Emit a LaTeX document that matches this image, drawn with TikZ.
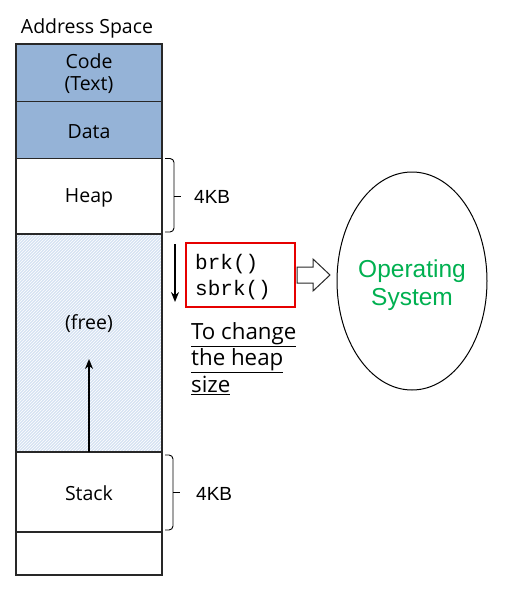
\documentclass[tikz,border=0pt]{standalone}
\usepackage{fontspec}
\setmainfont{Open Sans}
\newfontfamily\arial{Liberation Sans}
\newfontfamily\cour{Liberation Mono}
\usetikzlibrary{patterns,shapes.geometric,arrows.meta}
\definecolor{segblue}{RGB}{149,179,215}
\definecolor{freeblue}{RGB}{214,226,242}
\definecolor{osgreen}{RGB}{0,176,80}
\definecolor{boxred}{RGB}{230,0,0}
\definecolor{edge}{RGB}{40,40,40}
\tikzset{
  seg/.style={draw=edge, line width=1.2pt},
  lbl/.style={font=\fontsize{19.5}{22}\selectfont, inner sep=0pt},
  kb/.style={font=\arial\fontsize{19}{22}\selectfont, anchor=west, inner sep=0pt},
  brc/.style={draw=black, line width=0.9pt, rounded corners=4pt},
  arr/.style={draw=black, line width=1.5pt, -{Stealth[length=10pt,width=8pt]}},
}
\begin{document}
\begin{tikzpicture}[x=1pt,y=-1pt]
\useasboundingbox (0,0) rectangle (515,592);
% address space column
\node[lbl] (title) at (87,28) {Address Space};
\fill[freeblue] (16,234) rectangle (162,452);
\fill[pattern=north east lines, pattern color=white] (16,234) rectangle (162,452);
\draw[seg, fill=segblue] (16,44) rectangle (162,101.5);
\draw[seg, fill=segblue] (16,101.5) rectangle (162,158.5);
\draw[seg] (16,158.5) rectangle (162,234);
\draw[seg] (16,234) rectangle (162,452);
\draw[seg] (16,452) rectangle (162,532);
\draw[seg] (16,532) rectangle (162,575);
\node[lbl, align=center] (code) at (89,74) {Code\\(Text)};
\node[lbl] (data) at (89,132) {Data};
\node[lbl] (heap) at (89,198) {Heap};
\node[lbl] (free) at (89,324) {(free)};
\node[lbl] (stack) at (89,493) {Stack};
% brackets
\draw[brc] (165,158.5) -- (174,158.5) -- (174,232) -- (165,232);
\draw (174,196) -- (181,196);
\draw[brc] (165,455) -- (173,455) -- (173,530) -- (165,530);
\draw (173,492) -- (180,492);
\node[kb] (kb1) at (194,197) {4KB};
\node[kb] (kb2) at (196,494) {4KB};
% arrows
\coordinate (dtop) at (175,244);
\coordinate (dbot) at (175,302);
\draw[arr] (dtop) -- (dbot);
\coordinate (ubot) at (89,452);
\coordinate (utop) at (89,359);
\draw[arr] (ubot) -- (utop);
% syscall box
\node[draw=boxred, line width=1.5pt, minimum width=109pt, minimum height=64pt, inner sep=0pt] (sys) at (240.5,275) {};
\node[font=\cour\fontsize{21}{26}\selectfont, align=left, anchor=west, inner sep=0pt] (calls) at (195,277) {brk()\\sbrk()};
% block arrow
\draw[line width=1pt, fill=white, draw=edge] (297,267) -- (313,267) -- (313,259) -- (330,275) -- (313,291) -- (313,283) -- (297,283) -- cycle;
% OS ellipse
\node[draw=black, line width=1pt, ellipse, minimum width=150pt, minimum height=218pt, inner sep=0pt] (os) at (412,281) {};
\node[font=\arial\fontsize{24.5}{28}\selectfont, text=osgreen, align=center] (ostext) at (412,285) {Operating\\System};
% note
\node[font=\fontsize{22.3}{26.5}\selectfont, align=left, anchor=north west, inner sep=0pt] (note) at (191,322) {\underline{To change}\\\underline{the heap}\\\underline{size}};
\end{tikzpicture}
\end{document}
